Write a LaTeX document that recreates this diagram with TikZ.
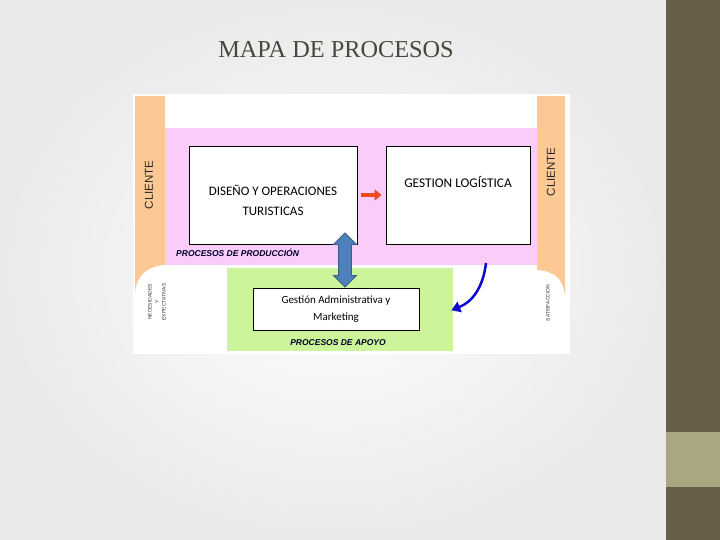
\documentclass[tikz,border=0pt]{standalone}
\usepackage{fontspec}
\setmainfont{Liberation Serif}
\newfontfamily\carlito{Carlito}
\newfontfamily\arialf{Liberation Sans}
\usetikzlibrary{shapes.arrows,arrows.meta}
\definecolor{fondo}{HTML}{EAEAEA}
\definecolor{oliva}{HTML}{665E47}
\definecolor{olivaclaro}{HTML}{A9A77F}
\definecolor{titulo}{HTML}{48473C}
\definecolor{naranja}{HTML}{FCC995}
\definecolor{rosa}{HTML}{F9CCF9}
\definecolor{verde}{HTML}{CCF59B}
\definecolor{azulflecha}{HTML}{4F81BD}
\definecolor{azulborde}{HTML}{385D8A}
\definecolor{azuloscuro}{HTML}{0A0ACC}
\definecolor{rojo}{HTML}{F04A1E}

\begin{document}
\begin{tikzpicture}[x=1pt,y=-1pt,
  caja/.style={draw=black,line width=0.9pt,fill=white,inner sep=0pt,align=center,font=\carlito\fontsize{13}{20}\selectfont},
  cajatexto/.style={inner sep=0pt,align=center,font=\carlito\fontsize{13}{20}\selectfont},
  banda/.style={inner sep=0pt,draw=none},
  etiq/.style={inner sep=0pt,font=\arialf\bfseries\itshape\fontsize{8.5}{9}\selectfont,text=black!85!blue},
  cliente/.style={rotate=90,font=\arialf\fontsize{11.5}{12}\selectfont,text=black!85},
  diminuto/.style={rotate=90,align=center,inner sep=0pt,font=\arialf\fontsize{5}{7}\selectfont,text=black!80}]
\useasboundingbox (0,0) rectangle (720,540);
\shade[inner color=white,outer color=fondo] (0,0) rectangle (666,540);
\fill[oliva] (666,0) rectangle (720,540);
\fill[olivaclaro] (666,432) rectangle (720,487);
\node[font=\fontsize{24.3}{30}\selectfont,text=titulo] (titulo) at (336,50) {MAPA DE PROCESOS};
\fill[white] (133,94) rectangle (570,354);
\fill[naranja] (135,96) -- (165,96) -- (165,265) .. controls (146,266) and (136,277) .. (135,293) -- cycle;
\fill[naranja] (537,96) -- (565,96) -- (565,296) .. controls (564,280) and (555,271) .. (537,270) -- cycle;
\node[cliente] (clienteIzq) at (149,185) {CLIENTE};
\node[cliente] (clienteDer) at (551,172) {CLIENTE};
\node[banda,fill=rosa,minimum width=372,minimum height=137] (produccion) at (351,196.5) {};
\node[banda,fill=verde,minimum width=226,minimum height=83] (apoyo) at (340,309.5) {};
\node[caja,minimum width=168,minimum height=98] (diseno) at (273,195) {};
\node[cajatexto] (disenoTxt) at (273,200) {DISEÑO Y OPERACIONES\\TURISTICAS};
\node[caja,minimum width=144,minimum height=98] (gestion) at (458,195) {};
\node[cajatexto,font=\carlito\fontsize{13.3}{14}\selectfont] (gestionTxt) at (458,182) {GESTION LOGÍSTICA};
\node[caja,minimum width=166,minimum height=42,font=\carlito\fontsize{11}{17}\selectfont] (admin) at (336,309) {Gestión Administrativa y\\Marketing};
\node[etiq,anchor=west] (etiqProd) at (176,253) {PROCESOS DE PRODUCCIÓN};
\node[etiq] (etiqApoyo) at (338,343) {PROCESOS DE APOYO};
\draw[rojo,line width=4pt,-{Triangle[length=7pt,width=11pt]},shorten <=4pt,shorten >=4pt] (diseno.east) -- (gestion.west);
\node[double arrow,rotate=90,fill=azulflecha,draw=azulborde,line width=0.8pt,minimum height=54,double arrow head extend=5,inner xsep=0pt,inner ysep=0pt] (enlace) at (345,260) {\rule{0pt}{12pt}};
\coordinate (curvaIni) at (486,263);
\draw[azuloscuro,line width=2.5pt,-{Triangle[length=9pt,width=11pt]},shorten >=-2pt] (curvaIni) .. controls (483,288) and (472,302) .. (apoyo.east);
\node[diminuto] (necesidades) at (157,302) {NECESIDADES\\Y\\EXPECTATIVAS};
\node[diminuto] (satisfaccion) at (548,303) {SATISFACCION};
\end{tikzpicture}
\end{document}
